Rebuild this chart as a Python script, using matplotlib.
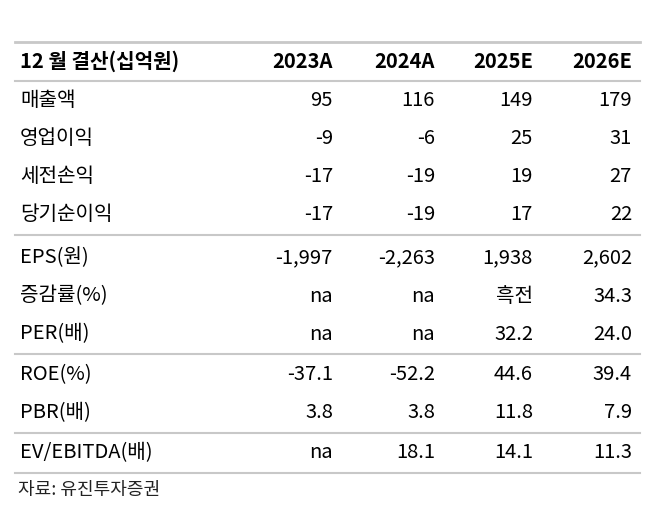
import matplotlib
matplotlib.use("Agg")
import matplotlib.pyplot as plt
from matplotlib import font_manager

header = ["12 월 결산(십억원)", "2023A", "2024A", "2025E", "2026E"]
row_labels = ["매출액", "영업이익", "세전손익", "당기순이익", "EPS(원)", "증감률(%)", "PER(배)",
              "ROE(%)", "PBR(배)", "EV/EBITDA(배)"]
v2023 = ["95", "-9", "-17", "-17", "-1,997", "na", "na", "-37.1", "3.8", "na"]
v2024 = ["116", "-6", "-19", "-19", "-2,263", "na", "na", "-52.2", "3.8", "18.1"]
v2025 = ["149", "25", "19", "17", "1,938", "흑전", "32.2", "44.6", "11.8", "14.1"]
v2026 = ["179", "31", "27", "22", "2,602", "34.3", "24.0", "39.4", "7.9", "11.3"]
source = "자료: 유진투자증권"

names = {f.name for f in font_manager.fontManager.ttflist}
font = [n for n in ["Noto Sans CJK KR", "Noto Sans CJK JP", "Noto Sans CJK SC", "Noto Sans CJK TC"] if n in names] + ["DejaVu Sans"]
plt.rcParams["font.family"] = font

W, H = 655, 520
fig = plt.figure(figsize=(W/100, H/100), dpi=100)
ax = fig.add_axes([0, 0, 1, 1])
ax.set_xlim(0, W); ax.set_ylim(H, 0); ax.axis("off")
fs = 14.5
col_right = [333, 435, 533, 632]
x_left = 20

ax.text(x_left, 61, header[0], fontsize=fs, fontweight="bold", va="center", ha="left")
for xr, h in zip(col_right, header[1:]):
    ax.text(xr, 61, h, fontsize=fs, fontweight="bold", va="center", ha="right")

ys = [101, 139, 177, 215, 258, 296, 334, 375, 413, 453]
cols = [v2023, v2024, v2025, v2026]
for i, (lab, y) in enumerate(zip(row_labels, ys)):
    ax.text(x_left, y, lab, fontsize=fs, va="center", ha="left")
    for xr, col in zip(col_right, cols):
        ax.text(xr, y, col[i], fontsize=fs, va="center", ha="right")

for yl, lw in [(42, 2.0), (81, 1.5), (235, 1.5), (354, 1.5), (433, 1.5), (473, 1.5)]:
    ax.plot([15, 640], [yl, yl], color="#c8c8c8", lw=lw)

ax.text(18, 490, source, fontsize=13, va="center", ha="left", color="#222222")
fig.savefig("out.png", dpi=100)
